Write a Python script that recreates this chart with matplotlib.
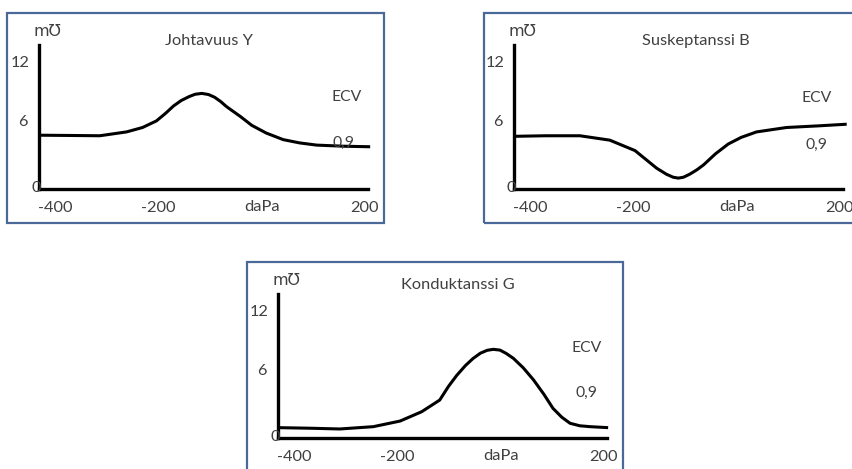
import matplotlib
matplotlib.use("Agg")
import matplotlib.pyplot as plt
from matplotlib.patches import Rectangle

plt.rcParams['font.family'] = ['Lato', 'DejaVu Sans']

# ---- data ----
x_y = [-430, -380, -313, -261, -230, -203, -185, -170, -155, -140, -128, -115, -102, -90, -78, -67, -40, -18, 10, 43, 75, 108, 160, 212]
y_y = [4.8, 4.78, 4.75, 5.1, 5.5, 6.1, 6.8, 7.45, 7.95, 8.3, 8.52, 8.6, 8.5, 8.25, 7.85, 7.4, 6.5, 5.7, 5.0, 4.4, 4.1, 3.9, 3.8, 3.75]

x_b = [-429, -370, -303, -245, -196, -175, -154, -135, -122, -112, -102, -90, -76, -63, -40, -15, 10, 40, 98, 160, 215]
y_b = [4.7, 4.75, 4.75, 4.35, 3.4, 2.6, 1.8, 1.25, 0.98, 0.9, 0.98, 1.25, 1.65, 2.1, 3.1, 4.0, 4.6, 5.1, 5.5, 5.65, 5.8]

x_g = [-430, -370, -311, -246, -194, -152, -117, -100, -84, -67, -52, -38, -25, -13, 0, 12, 26, 45, 65, 85, 103, 120, 136, 155, 175, 210]
y_g = [0.85, 0.8, 0.73, 0.94, 1.45, 2.3, 3.36, 4.6, 5.6, 6.5, 7.15, 7.62, 7.88, 7.97, 7.9, 7.6, 7.15, 6.3, 5.2, 3.9, 2.6, 1.8, 1.25, 1.02, 0.94, 0.85]

titles = ["Johtavuus Y", "Suskeptanssi B", "Konduktanssi G"]
x_ticks = [-400, -200, 200]
x_tick_labels = ["-400", "-200", "200"]
y_labels = ["0", "6", "12"]
y_label_pos = [0, 6.0, 11.36]      # where the labels sit in the drawing
y_label_x = [-436, -462, -467]
unit_label = "m\u01b1"
x_label = "daPa"
ecv_label = "ECV"
ecv_value = "0,9"

W, H = 853, 469
fig = plt.figure(figsize=(W / 100, H / 100), dpi=100)
fig.patch.set_facecolor("white")

TXT = "#404040"
BORDER = "#4a6898"

def fx(px):
    return px / W

def fy(py):
    return 1 - py / H

# panel offsets in pixels relative to first panel
offsets = [(0, 0), (475, 0), (239, 249)]
borders = [(7, 12.7, 384, 222.7), (484, 12.7, 870, 222.7), (247, 261.7, 623, 490)]
title_x = [-101, -78, -81.5]
title_y = [13.4, 13.4, 13.8]
ecv_pos = [(167, 8.27, 161, 4.1), (157, 8.2, 157, 3.9), (168, 8.06, 168, 3.97)]
series = [(x_y, y_y), (x_b, y_b), (x_g, y_g)]

for (x0, y0, x1, y1) in borders:
    fig.patches.append(Rectangle((fx(x0), fy(y1)), fx(x1) - fx(x0), fy(y0) - fy(y1),
                                 transform=fig.transFigure, fill=False,
                                 edgecolor=BORDER, linewidth=1.6, zorder=0))

for i, (dx, dy) in enumerate(offsets):
    left, right, top, bottom = 39 + dx, 368 + dx, 45 + dy, 189 + dy
    ax = fig.add_axes([fx(left), fy(bottom), fx(right) - fx(left), fy(top) - fy(bottom)])
    ax.patch.set_alpha(0)
    ax.set_xlim(-431, 207.8)
    ax.set_ylim(-0.09, 13)
    for s in ("top", "right"):
        ax.spines[s].set_visible(False)
    for s in ("left", "bottom"):
        ax.spines[s].set_linewidth(2.4)
        ax.spines[s].set_color("black")
    xs, ys = series[i]
    ax.plot(xs, ys, color="black", linewidth=2.2, solid_capstyle="butt",
            solid_joinstyle="round", clip_on=False)
    ax.set_xticks(x_ticks)
    ax.set_xticklabels(x_tick_labels)
    ax.set_yticks([])
    ax.tick_params(axis="x", length=0, pad=8.5, labelsize=11.8, labelcolor=TXT)
    for lab, yp, xp in zip(y_labels, y_label_pos, y_label_x):
        ax.text(xp, yp, lab, ha="center", va="center", fontsize=11.8, color=TXT, clip_on=False)
    ax.text(-415.5, 14.2, unit_label, ha="center", va="center", fontsize=11.5, color=TXT,
            family=['DejaVu Sans'], clip_on=False)
    ax.text(title_x[i], title_y[i], titles[i], ha="center", va="center", fontsize=11.8, color=TXT,
            clip_on=False)
    ex, ey, vx, vy = ecv_pos[i]
    ax.text(ex, ey, ecv_label, ha="center", va="center", fontsize=11.3, color=TXT, clip_on=False)
    ax.text(vx, vy, ecv_value, ha="center", va="center", fontsize=11.3, color=TXT, clip_on=False)
    ax.text(2, -1.73, x_label, ha="center", va="center", fontsize=11.8, color=TXT, clip_on=False)

fig.savefig("out.png", dpi=100, facecolor="white")
